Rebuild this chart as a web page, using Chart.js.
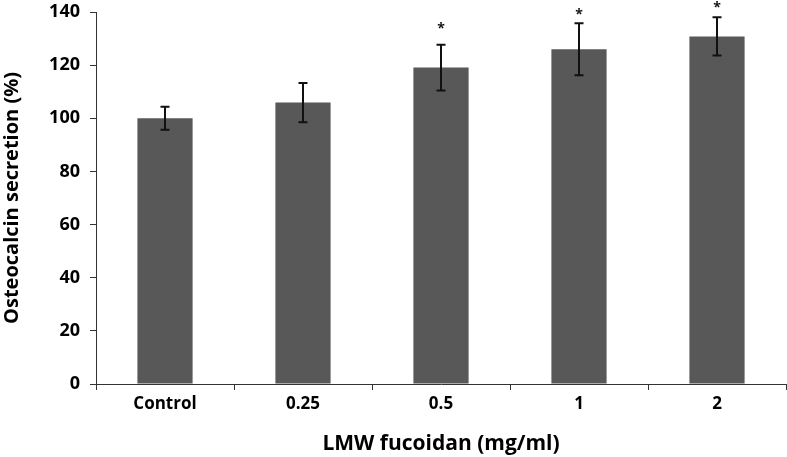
<!DOCTYPE html>
<html>
<head>
<meta charset="utf-8">
<script src="https://cdn.jsdelivr.net/npm/chart.js@4/dist/chart.umd.min.js"></script>
<style>
html,body{margin:0;padding:0;background:#fff;}
#wrap{width:787px;height:457px;position:relative;}
</style>
</head>
<body>
<div id="wrap"><canvas id="c"></canvas></div>
<script>
const categories = ['Control', '0.25', '0.5', '1', '2'];
const values = [100, 105.9, 119.1, 126, 130.8];
const errors = [4.3, 7.4, 8.6, 9.8, 7.2];
const significant = [false, false, true, true, true];
const starLevels = [null, null, 134.9, 140, 142.6];

const FONT = '"Open Sans", sans-serif';

const errorPlugin = {
  id: 'errorBars',
  afterDatasetsDraw(chart) {
    const ctx = chart.ctx;
    const meta = chart.getDatasetMeta(0);
    const y = chart.scales.y;
    ctx.save();
    ctx.strokeStyle = '#111';
    ctx.lineWidth = 2;
    meta.data.forEach((bar, i) => {
      const x = bar.x;
      const top = y.getPixelForValue(values[i] + errors[i]);
      const bot = y.getPixelForValue(values[i] - errors[i]);
      ctx.beginPath();
      ctx.moveTo(x, top); ctx.lineTo(x, bot);
      ctx.moveTo(x - 4.5, top); ctx.lineTo(x + 4.5, top);
      ctx.moveTo(x - 4.5, bot); ctx.lineTo(x + 4.5, bot);
      ctx.stroke();
      if (significant[i]) {
        ctx.fillStyle = '#111';
        ctx.font = 'bold 14px ' + FONT;
        ctx.textAlign = 'center';
        ctx.textBaseline = 'middle';
        ctx.fillText('*', x, y.getPixelForValue(starLevels[i]) + 3);
      }
    });
    ctx.restore();
  }
};

new Chart(document.getElementById('c'), {
  type: 'bar',
  data: {
    labels: categories,
    datasets: [{
      data: values,
      backgroundColor: '#585858',
      borderWidth: 0,
      categoryPercentage: 1.0,
      barPercentage: 0.4
    }]
  },
  options: {
    responsive: true,
    maintainAspectRatio: false,
    animation: false,
    layout: { padding: { top: 12, right: 1, left: 0, bottom: 0 } },
    plugins: { legend: { display: false }, tooltip: { enabled: false } },
    scales: {
      x: {
        offset: true,
        grid: { display: true, drawOnChartArea: false, drawTicks: true, tickLength: 6, color: '#333', offset: true, lineWidth: 1 },
        border: { display: true, color: '#333', width: 1 },
        ticks: { color: '#000', font: { family: FONT, size: 17, weight: 'bold' }, padding: 4 },
        title: { display: true, text: 'LMW fucoidan (mg/ml)', color: '#000', font: { family: FONT, size: 21, weight: 'bold' }, padding: { top: 7, bottom: 0 } },
        afterFit(s) { s.height = 73; s.paddingLeft = 0; s.paddingRight = 0; }
      },
      y: {
        min: 0, max: 140,
        ticks: { stepSize: 20, color: '#000', font: { family: FONT, size: 18, weight: 'bold' }, padding: 10 },
        grid: { display: true, drawOnChartArea: false, drawTicks: true, tickLength: 6, color: '#333' },
        border: { display: true, color: '#333', width: 1 },
        title: { display: true, text: 'Osteocalcin secretion (%)', color: '#000', font: { family: FONT, size: 20, weight: 'bold' }, padding: { top: 0, bottom: 3 } },
        afterFit(s) { s.width = 96; s.paddingTop = 0; s.paddingBottom = 0; }
      }
    }
  },
  plugins: [errorPlugin]
});
</script>
</body>
</html>
